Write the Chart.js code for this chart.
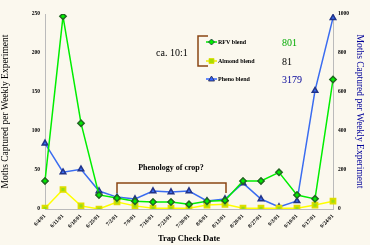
<!DOCTYPE html>
<html>
<head>
<meta charset="utf-8">
<script src="https://cdn.jsdelivr.net/npm/chart.js@4"></script>
<style>
  html, body { margin: 0; padding: 0; background: #fbf8ee; }
  #wrap { width: 370px; height: 245px; }
</style>
</head>
<body>
<div id="wrap"><canvas id="line-chart" width="370" height="245"></canvas></div>
<script>
var dates = ["6/4/01", "6/11/01", "6/18/01", "6/25/01", "7/2/01", "7/9/01", "7/16/01", "7/23/01", "7/30/01",
             "8/6/01", "8/13/01", "8/20/01", "8/27/01", "9/3/01", "9/10/01", "9/17/01", "9/24/01"];
var rfvBlend    = [36, 247, 110, 18, 14, 10, 9, 9, 6, 10, 11, 36, 36, 47, 18, 13, 166];
var almondBlend = [1, 25, 4, 0, 9, 4, 1, 1, 1, 5, 6, 1, 1, 1, 1, 5, 10];
var phenoBlend  = [337, 189, 204, 92, 61, 51, 92, 87, 92, 41, 51, 133, 51, 10, 41, 607, 980];
var seriesNames = ["RFV blend", "Almond blend", "Pheno blend"];
var seriesTotals = ["801", "81", "3179"];
var leftTicks = [0, 50, 100, 150, 200, 250];
var rightTicks = [0, 200, 400, 600, 800, 1000];

var serif = "'Liberation Serif', 'DejaVu Serif', serif";

var notes = {
  id: 'notes',
  afterDraw: function(chart) {
    var ctx = chart.ctx;
    ctx.save();
    // legend
    var cols = ['#00ee00', '#eeee00', '#3366ff'];
    var styles = ['diamond', 'square', 'triangle'];
    var ys = [42, 61, 79];
    for (var i = 0; i < 3; i++) {
      var y = ys[i];
      ctx.strokeStyle = cols[i];
      ctx.lineWidth = 1.5;
      ctx.beginPath(); ctx.moveTo(206, y); ctx.lineTo(217, y); ctx.stroke();
      ctx.fillStyle = i == 1 ? '#aadd00' : cols[i];
      ctx.strokeStyle = i == 1 ? '#dddd00' : '#224';
      ctx.lineWidth = 0.8;
      ctx.beginPath();
      if (styles[i] == 'diamond') { ctx.moveTo(211.5, y - 3); ctx.lineTo(214.5, y); ctx.lineTo(211.5, y + 3); ctx.lineTo(208.5, y); }
      else if (styles[i] == 'square') { ctx.rect(209, y - 2.5, 5, 5); }
      else { ctx.moveTo(211.5, y - 3); ctx.lineTo(214.5, y + 2); ctx.lineTo(208.5, y + 2); }
      ctx.closePath(); ctx.fill(); ctx.stroke();
      ctx.fillStyle = '#000';
      ctx.font = 'bold 6px ' + serif;
      ctx.textBaseline = 'middle';
      ctx.textAlign = 'left';
      ctx.fillText(seriesNames[i], 218, y + 0.5);
      ctx.font = '10px ' + serif;
      ctx.fillStyle = ['#00aa00', '#000', '#000099'][i];
      ctx.fillText(seriesTotals[i], 282, y + 1);
    }
    // ca. 10:1 bracket
    ctx.fillStyle = '#000';
    ctx.font = '10px ' + serif;
    ctx.textAlign = 'left';
    ctx.fillText('ca. 10:1', 156, 53);
    ctx.strokeStyle = '#8b4513';
    ctx.lineWidth = 1.5;
    ctx.beginPath();
    ctx.moveTo(208, 36); ctx.lineTo(198, 36); ctx.lineTo(198, 66); ctx.lineTo(208, 66);
    ctx.stroke();
    // phenology bracket
    ctx.beginPath();
    ctx.moveTo(117, 193); ctx.lineTo(117, 183); ctx.lineTo(226, 183); ctx.lineTo(226, 193);
    ctx.stroke();
    ctx.fillStyle = '#000';
    ctx.font = 'bold 8px ' + serif;
    ctx.textAlign = 'center';
    ctx.fillText('Phenology of crop?', 171, 168);
    ctx.restore();
  }
};

new Chart(document.getElementById("line-chart"), {
  type: 'line',
  data: {
    labels: dates,
    datasets: [
      {
        label: seriesNames[0],
        data: rfvBlend,
        yAxisID: 'y',
        borderColor: '#00ee00',
        backgroundColor: '#00ee00',
        pointBorderColor: '#226622',
        pointStyle: 'rectRot',
        pointRadius: 3.2,
        borderWidth: 1.5,
        tension: 0
      },
      {
        label: seriesNames[1],
        data: almondBlend,
        yAxisID: 'y',
        borderColor: '#ffff00',
        backgroundColor: '#99dd11',
        pointBorderColor: '#dddd00',
        pointBorderWidth: 1.8,
        pointStyle: 'rect',
        pointRadius: 3.5,
        borderWidth: 1.5,
        tension: 0
      },
      {
        label: seriesNames[2],
        data: phenoBlend,
        yAxisID: 'y1',
        borderColor: '#3a6cf0',
        backgroundColor: '#3a6cf0',
        pointBorderColor: '#223388',
        pointStyle: 'triangle',
        pointRadius: 3.2,
        borderWidth: 1.5,
        tension: 0
      }
    ]
  },
  options: {
    responsive: false,
    animation: false,
    layout: { padding: { top: 14, left: 0, right: 0, bottom: 0 } },
    plugins: {
      legend: { display: false },
      tooltip: { enabled: false }
    },
    scales: {
      x: {
        offset: false,
        grid: { display: false, drawTicks: true, tickLength: 3, color: '#999' },
        border: { color: '#bbb' },
        ticks: {
          color: '#000', font: { family: serif, size: 5.5, weight: 'bold' },
          minRotation: 45, maxRotation: 45, padding: 1, autoSkip: false
        },
        title: {
          display: true, text: 'Trap Check Date', color: '#000',
          font: { family: serif, size: 8.5, weight: 'bold' }, padding: { top: 0, bottom: 1 }
        },
        afterFit: function(s) { s.height = 36; }
      },
      y: {
        position: 'left', min: 0, max: 250,
        afterBuildTicks: function(s) { s.ticks = leftTicks.map(function(v) { return { value: v }; }); },
        grid: { display: false, drawTicks: true, tickLength: 3 },
        border: { color: '#bbb' },
        ticks: { color: '#000', font: { family: serif, size: 5.5, weight: 'bold' }, padding: 2,
                 callback: function(v) { return String(v); } },
        title: {
          display: true, text: 'Moths Captured per Weekly Experiment', color: '#000',
          font: { family: serif, size: 9.5 }, padding: { top: 0, bottom: 8 }
        },
        afterFit: function(s) { s.width = 45; }
      },
      y1: {
        position: 'right', min: 0, max: 1000,
        afterBuildTicks: function(s) { s.ticks = rightTicks.map(function(v) { return { value: v }; }); },
        grid: { display: false, drawTicks: true, tickLength: 3 },
        border: { color: '#bbb' },
        ticks: { color: '#000', font: { family: serif, size: 5.5, weight: 'bold' }, padding: 2,
                 callback: function(v) { return String(v); } },
        title: {
          display: true, text: 'Moths Captured per Weekly Experiment', color: '#000099',
          font: { family: serif, size: 9.5 }, padding: { top: 5, bottom: 0 }
        },
        afterFit: function(s) { s.width = 37; }
      }
    }
  },
  plugins: [notes]
});
</script>
</body>
</html>
